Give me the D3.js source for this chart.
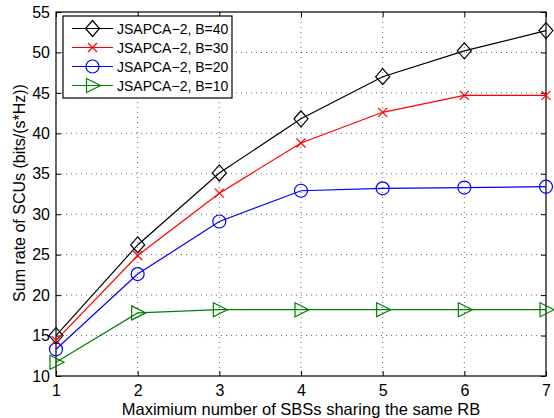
<!DOCTYPE html>
<html>
<head>
<meta charset="utf-8">
<script src="https://cdn.jsdelivr.net/npm/d3@7"></script>
<style>
  body { margin: 0; background: #fff; }
  svg { display: block; font-family: "Liberation Sans", Arial, sans-serif; }
</style>
</head>
<body>
<div id="graf"></div>
<script>
// Data
const xValues = [1, 2, 3, 4, 5, 6, 7];
const b40 = [15.0, 26.2, 35.1, 41.8, 47.0, 50.2, 52.7];
const b30 = [14.4, 24.9, 32.6, 38.8, 42.6, 44.7, 44.7];
const b20 = [13.3, 22.6, 29.1, 32.9, 33.2, 33.3, 33.4];
const b10 = [11.7, 17.8, 18.2, 18.2, 18.2, 18.2, 18.2];
const seriesNames = ["JSAPCA\u22122, B=40", "JSAPCA\u22122, B=30", "JSAPCA\u22122, B=20", "JSAPCA\u22122, B=10"];
const yTicks = [10, 15, 20, 25, 30, 35, 40, 45, 50, 55];

const series = [
  { name: seriesNames[0], values: b40, color: "#000000", marker: "diamond" },
  { name: seriesNames[1], values: b30, color: "#ff0000", marker: "cross" },
  { name: seriesNames[2], values: b20, color: "#0000ff", marker: "circle" },
  { name: seriesNames[3], values: b10, color: "#008000", marker: "triangle" }
];

const svg = d3.select("#graf")
  .append("svg")
  .attr("width", 554)
  .attr("height", 418);

const margin = { top: 12, right: 8, bottom: 42, left: 56 };
const width = 554 - margin.left - margin.right;
const height = 418 - margin.top - margin.bottom;

const chart = svg.append("g")
  .attr("transform", `translate(${margin.left},${margin.top})`);

const xScale = d3.scaleLinear().domain([1, 7]).range([0, width]);
const yScale = d3.scaleLinear().domain([10, 55]).range([height, 0]);

// dotted grid
const grid = chart.append("g").attr("stroke", "#444").attr("stroke-width", 0.8)
  .attr("stroke-dasharray", "1,4");
grid.selectAll("line.v")
  .data(xValues.slice(1, -1))
  .enter().append("line")
  .attr("x1", d => xScale(d)).attr("x2", d => xScale(d))
  .attr("y1", 0).attr("y2", height);
grid.selectAll("line.h")
  .data(yTicks.slice(1, -1))
  .enter().append("line")
  .attr("y1", d => yScale(d)).attr("y2", d => yScale(d))
  .attr("x1", 0).attr("x2", width);

// axes with inward ticks on all four sides
function styleAxis(g) {
  g.select(".domain").remove();
  g.selectAll(".tick line").attr("stroke", "#000");
  g.selectAll("text").attr("fill", "#000").style("font-size", "16px");
}
chart.append("g")
  .attr("transform", `translate(0,${height})`)
  .call(d3.axisBottom(xScale).tickValues(xValues).tickFormat(d3.format("d"))
    .tickSizeInner(-5).tickSizeOuter(0).tickPadding(9))
  .call(styleAxis);
chart.append("g")
  .call(d3.axisTop(xScale).tickValues(xValues).tickFormat("")
    .tickSizeInner(-5).tickSizeOuter(0))
  .call(styleAxis);
chart.append("g")
  .call(d3.axisLeft(yScale).tickValues(yTicks).tickFormat(d3.format("d"))
    .tickSizeInner(-5).tickSizeOuter(0).tickPadding(6))
  .call(styleAxis);
chart.append("g")
  .attr("transform", `translate(${width},0)`)
  .call(d3.axisRight(yScale).tickValues(yTicks).tickFormat("")
    .tickSizeInner(-5).tickSizeOuter(0))
  .call(styleAxis);

chart.append("rect")
  .attr("width", width).attr("height", height)
  .attr("fill", "none").attr("stroke", "#000").attr("stroke-width", 1.2);

// markers
function drawMarker(g, type, x, y, color) {
  if (type === "diamond") {
    g.append("path")
      .attr("d", `M${x},${y - 8}L${x + 7},${y}L${x},${y + 8}L${x - 7},${y}Z`)
      .attr("fill", "none").attr("stroke", color).attr("stroke-width", 1.2);
  } else if (type === "cross") {
    g.append("path")
      .attr("d", `M${x - 4.5},${y - 4.5}L${x + 4.5},${y + 4.5}M${x - 4.5},${y + 4.5}L${x + 4.5},${y - 4.5}`)
      .attr("stroke", color).attr("stroke-width", 1.2);
  } else if (type === "circle") {
    g.append("circle").attr("cx", x).attr("cy", y).attr("r", 6.5)
      .attr("fill", "none").attr("stroke", color).attr("stroke-width", 1.2);
  } else {
    g.append("path")
      .attr("d", `M${x - 6},${y - 7}L${x + 8},${y}L${x - 6},${y + 7}Z`)
      .attr("fill", "none").attr("stroke", color).attr("stroke-width", 1.2);
  }
}

const line = d3.line()
  .x((d, i) => xScale(xValues[i]))
  .y(d => yScale(d));

const plot = chart.append("g");
series.slice().reverse().forEach(s => {
  plot.append("path")
    .datum(s.values)
    .attr("d", line)
    .attr("fill", "none")
    .attr("stroke", s.color)
    .attr("stroke-width", 1.2);
  s.values.forEach((v, i) => drawMarker(plot, s.marker, xScale(xValues[i]), yScale(v), s.color));
});

// legend
const legend = svg.append("g").attr("transform", "translate(63,16)");
legend.append("rect")
  .attr("width", 169).attr("height", 82)
  .attr("fill", "#fff").attr("stroke", "#000").attr("stroke-width", 1.2);
series.forEach((s, i) => {
  const y = 12.5 + i * 19;
  legend.append("line")
    .attr("x1", 9).attr("x2", 50).attr("y1", y).attr("y2", y)
    .attr("stroke", s.color).attr("stroke-width", 1.2);
  drawMarker(legend, s.marker, 29.5, y, s.color);
  legend.append("text")
    .attr("x", 54).attr("y", y + 5)
    .style("font-size", "14px")
    .text(s.name);
});

// axis labels
svg.append("text")
  .attr("x", 301).attr("y", 415)
  .attr("text-anchor", "middle")
  .style("font-size", "16.5px")
  .text("Maximium number of SBSs sharing the same RB");
svg.append("text")
  .attr("transform", `translate(25,193) rotate(-90)`)
  .attr("text-anchor", "middle")
  .style("font-size", "16px")
  .text("Sum rate of SCUs (bits/(s*Hz))");
</script>
</body>
</html>
